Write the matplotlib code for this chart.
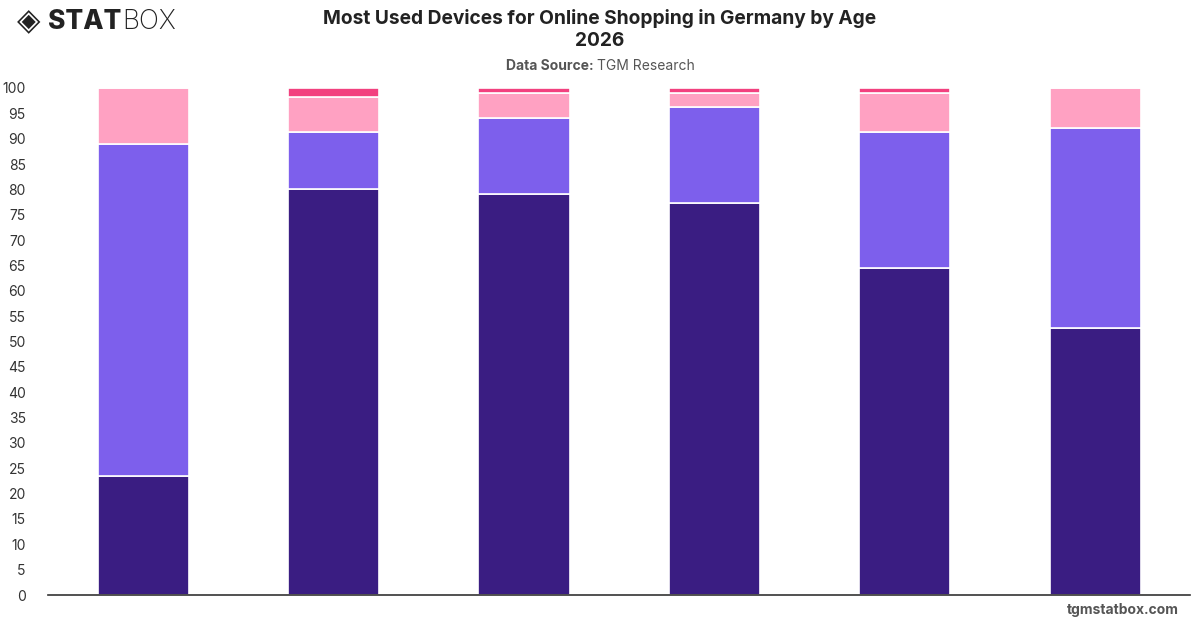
import matplotlib
matplotlib.use("Agg")
import matplotlib.pyplot as plt
import numpy as np

categories = ["A", "B", "C", "D", "E", "F"]
series_names = ["Smartphone", "Laptop/PC", "Tablet", "Other"]
dark_vals = [23.5, 80, 79, 77.3, 64.5, 52.7]
purple_vals = [65.5, 11.3, 15, 19, 26.8, 39.4]
pink_vals = [11, 6.9, 5, 2.7, 7.7, 7.9]
hot_vals = [0, 1.8, 1, 1, 1, 0]
yticks = list(range(0, 101, 5))

colors = ["#3a1d82", "#7d5fec", "#ffa1c2", "#f2417f"]

plt.rcParams['font.family'] = ['Inter', 'DejaVu Sans']
fig = plt.figure(figsize=(12, 6.28), dpi=100)
ax = fig.add_axes([0.04, 0.0525, 0.952, 0.8074])

x = np.arange(len(categories))
bottom = np.zeros(len(categories))
for vals, col in zip([dark_vals, purple_vals, pink_vals, hot_vals], colors):
    v = np.array(vals, dtype=float)
    ax.bar(x, v, bottom=bottom, width=0.48, color=col, edgecolor="white", linewidth=1.2)
    bottom += v

ax.set_xlim(-0.5, len(categories) - 0.5)
ax.set_ylim(0, 100)
ax.set_yticks(yticks)
ax.set_yticklabels([str(t) for t in yticks], fontsize=10, color="#333333")
ax.set_xticks([])
for s in ["top", "right", "left"]:
    ax.spines[s].set_visible(False)
ax.spines["bottom"].set_color("#333333")
ax.spines["bottom"].set_linewidth(1.2)
ax.tick_params(axis="y", length=0, pad=16)

fig.text(0.5, 0.97, "Most Used Devices for Online Shopping in Germany by Age",
         ha="center", va="center", fontsize=13.8, fontweight="bold", color="#222222")
fig.text(0.5, 0.935, "2026", ha="center", va="center", fontsize=13.8,
         fontweight="bold", color="#222222")

renderer = fig.canvas.get_renderer()

# Subtitle: bold part + normal part, centered as a whole
t1 = fig.text(0, 0.895, "Data Source: ", ha="left", va="center", fontsize=10,
              fontweight="bold", color="#555555")
t2 = fig.text(0, 0.895, "TGM Research", ha="left", va="center", fontsize=10,
              color="#555555")
w1 = t1.get_window_extent(renderer).width / fig.bbox.width
w2 = t2.get_window_extent(renderer).width / fig.bbox.width
start = 0.5 - (w1 + w2) / 2
t1.set_x(start)
t2.set_x(start + w1)

# Logo
fig.text(0.014, 0.966, "◈", ha="left", va="center", fontsize=22, color="#222222",
         family="DejaVu Sans", fontweight="bold")
s1 = fig.text(0.040, 0.965, "STAT", ha="left", va="center", fontsize=19, color="#222222",
              fontweight="heavy")
ws = s1.get_window_extent(renderer).width / fig.bbox.width
fig.text(0.040 + ws + 0.001, 0.965, "BOX", ha="left", va="center", fontsize=19,
         color="#222222", fontweight="light")

fig.text(0.982, 0.018, "tgmstatbox.com", ha="right", va="bottom", fontsize=10,
         fontweight="bold", color="#555555")

fig.savefig("out.png", dpi=100)
